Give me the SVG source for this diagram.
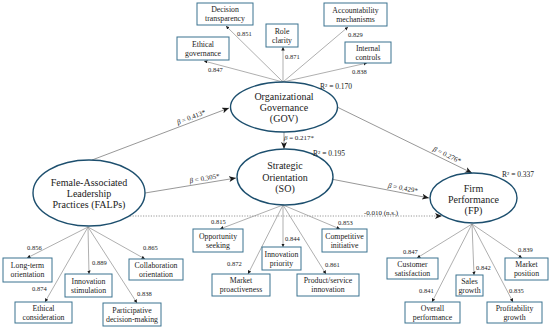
<svg xmlns="http://www.w3.org/2000/svg" width="550" height="330" viewBox="0 0 550 330">
<style>
text{font-family:"Liberation Serif","DejaVu Serif",serif;fill:#1a1a1a}
.ell{fill:#fff;stroke:#1d4f6e;stroke-width:1.4}
.box{fill:#fff;stroke:#3a7390;stroke-width:1}
.ind{stroke:#8c8c8c;stroke-width:0.7;fill:none}
.pth{stroke:#8c8c8c;stroke-width:0.9;fill:none}
.dot{stroke:#8c8c8c;stroke-width:0.9;fill:none;stroke-dasharray:1.2 1.4}
.lt{font-size:10px;text-anchor:middle}
.bt{font-size:7.8px;text-anchor:middle}
.ld{font-size:6.5px}
.r2{font-size:7.5px}
.beta{font-size:7px;text-anchor:middle}
</style>
<defs>
<marker id="ah" markerUnits="userSpaceOnUse" markerWidth="8" markerHeight="7" refX="7" refY="3" orient="auto">
<path d="M0,0 L7,3 L0,6 L1.8,3 z" fill="#1a1a1a"/>
</marker>
<marker id="sh" markerUnits="userSpaceOnUse" markerWidth="5" markerHeight="5" refX="3.5" refY="1.75" orient="auto">
<path d="M0,0 L3.5,1.75 L0,3.5 z" fill="#1a1a1a"/>
</marker>
</defs>

<g id="connectors">
<!-- structural paths -->
<line class="pth" x1="92" y1="160" x2="229" y2="108" marker-end="url(#ah)"/>
<line class="pth" x1="145" y1="193" x2="236" y2="178" marker-end="url(#ah)"/>
<line class="pth" x1="284" y1="132" x2="284" y2="149" marker-end="url(#ah)"/>
<line class="pth" x1="337" y1="107" x2="472" y2="173" marker-end="url(#ah)"/>
<line class="pth" x1="331" y1="179" x2="429" y2="198" marker-end="url(#ah)"/>
<line class="dot" x1="130" y1="216" x2="442" y2="216" marker-end="url(#ah)"/>
<!-- GOV indicators -->
<line class="ind" x1="283" y1="82" x2="226" y2="26" marker-end="url(#sh)"/>
<line class="ind" x1="283" y1="82" x2="283" y2="47" marker-end="url(#sh)"/>
<line class="ind" x1="283" y1="82" x2="348" y2="27" marker-end="url(#sh)"/>
<line class="ind" x1="283" y1="82" x2="204" y2="61" marker-end="url(#sh)"/>
<line class="ind" x1="283" y1="82" x2="367" y2="63" marker-end="url(#sh)"/>
<!-- FALPs indicators -->
<line class="ind" x1="88" y1="227" x2="27" y2="258" marker-end="url(#sh)"/>
<line class="ind" x1="88" y1="227" x2="45" y2="302" marker-end="url(#sh)"/>
<line class="ind" x1="88" y1="227" x2="89" y2="274" marker-end="url(#sh)"/>
<line class="ind" x1="88" y1="227" x2="137" y2="303" marker-end="url(#sh)"/>
<line class="ind" x1="88" y1="227" x2="145" y2="259" marker-end="url(#sh)"/>
<!-- SO indicators -->
<line class="ind" x1="283" y1="205" x2="220" y2="229" marker-end="url(#sh)"/>
<line class="ind" x1="283" y1="205" x2="248" y2="274" marker-end="url(#sh)"/>
<line class="ind" x1="283" y1="205" x2="283" y2="247" marker-end="url(#sh)"/>
<line class="ind" x1="283" y1="205" x2="326" y2="274" marker-end="url(#sh)"/>
<line class="ind" x1="283" y1="205" x2="340" y2="229" marker-end="url(#sh)"/>
<!-- FP indicators -->
<line class="ind" x1="472" y1="224" x2="417" y2="258" marker-end="url(#sh)"/>
<line class="ind" x1="472" y1="224" x2="432" y2="302" marker-end="url(#sh)"/>
<line class="ind" x1="472" y1="224" x2="474" y2="275" marker-end="url(#sh)"/>
<line class="ind" x1="472" y1="224" x2="513" y2="302" marker-end="url(#sh)"/>
<line class="ind" x1="472" y1="224" x2="522" y2="258" marker-end="url(#sh)"/>
<!-- path labels -->
<text class="beta" transform="translate(192,119.4) rotate(-20.8)"><tspan font-style="italic">β</tspan> = 0.413*</text>
<text class="beta" transform="translate(205,180.6) rotate(-9.4)"><tspan font-style="italic">β</tspan> = 0.305*</text>
<text class="beta" x="299" y="140"><tspan font-style="italic">β</tspan> = 0.217*</text>
<text class="beta" transform="translate(446,157) rotate(26)"><tspan font-style="italic">β</tspan> = 0.276*</text>
<text class="beta" transform="translate(402.5,190.3) rotate(10.9)"><tspan font-style="italic">β</tspan> = 0.429*</text>
<text class="beta" x="381" y="214.5">-0.010 (n.s.)</text>
<!-- loadings -->
<text class="ld" x="237" y="35.5">0.851</text>
<text class="ld" x="285" y="58.5">0.871</text>
<text class="ld" x="348" y="36.5">0.829</text>
<text class="ld" x="208" y="71.5">0.847</text>
<text class="ld" x="352" y="73.5">0.838</text>
<text class="ld" x="27" y="250">0.856</text>
<text class="ld" x="32" y="291">0.874</text>
<text class="ld" x="92" y="265">0.889</text>
<text class="ld" x="137" y="296">0.838</text>
<text class="ld" x="143" y="250">0.865</text>
<text class="ld" x="211" y="223.5">0.815</text>
<text class="ld" x="227" y="265.5">0.872</text>
<text class="ld" x="285" y="240.5">0.844</text>
<text class="ld" x="325" y="266.5">0.861</text>
<text class="ld" x="338" y="224.5">0.853</text>
<text class="ld" x="403" y="253.5">0.847</text>
<text class="ld" x="419" y="292.5">0.841</text>
<text class="ld" x="476" y="269.5">0.842</text>
<text class="ld" x="509" y="292.5">0.835</text>
<text class="ld" x="518" y="251.5">0.839</text>
</g>

<g id="GOV">
<ellipse class="ell" cx="284" cy="107" rx="53.5" ry="25"/>
<text class="lt" x="284" y="99.5">Organizational</text>
<text class="lt" x="284" y="110.5">Governance</text>
<text class="lt" x="284" y="121.5">(GOV)</text>
<text class="r2" x="320" y="88.5">R² = 0.170</text>
</g>
<g id="SO">
<ellipse class="ell" cx="285" cy="177" rx="48" ry="28"/>
<text class="lt" x="285" y="168.5">Strategic</text>
<text class="lt" x="285" y="180.5">Orientation</text>
<text class="lt" x="285" y="191.5">(SO)</text>
<text class="r2" x="313" y="156">R² = 0.195</text>
</g>
<g id="FALPs">
<ellipse class="ell" cx="89" cy="193" rx="56" ry="33"/>
<text class="lt" x="89" y="185.5">Female-Associated</text>
<text class="lt" x="89" y="196.5">Leadership</text>
<text class="lt" x="89" y="207.5">Practices (FALPs)</text>
</g>
<g id="FP">
<ellipse class="ell" cx="473.5" cy="198" rx="43.5" ry="25"/>
<text class="lt" x="473.5" y="191.5">Firm</text>
<text class="lt" x="473.5" y="202.5">Performance</text>
<text class="lt" x="473.5" y="213.5">(FP)</text>
<text class="r2" x="502" y="177">R² = 0.337</text>
</g>

<g id="gov_dt"><rect class="box" x="197" y="3" width="56" height="22"/><text class="bt" x="225" y="12.3">Decision</text><text class="bt" x="225" y="21.3">transparency</text></g>
<g id="gov_rc"><rect class="box" x="266" y="24" width="32" height="23"/><text class="bt" x="282" y="33.8">Role</text><text class="bt" x="282" y="42.8">clarity</text></g>
<g id="gov_am"><rect class="box" x="324" y="3" width="63" height="23"/><text class="bt" x="355.5" y="12.8">Accountability</text><text class="bt" x="355.5" y="21.8">mechanisms</text></g>
<g id="gov_eg"><rect class="box" x="177" y="37" width="52" height="23"/><text class="bt" x="203" y="46.8">Ethical</text><text class="bt" x="203" y="55.8">governance</text></g>
<g id="gov_ic"><rect class="box" x="345" y="42" width="46" height="21"/><text class="bt" x="368" y="50.8">Internal</text><text class="bt" x="368" y="59.8">controls</text></g>

<g id="falps_lt"><rect class="box" x="3" y="258" width="49" height="24"/><text class="bt" x="27.5" y="268.3">Long-term</text><text class="bt" x="27.5" y="277.3">orientation</text></g>
<g id="falps_ec"><rect class="box" x="15" y="302" width="57" height="21"/><text class="bt" x="43.5" y="310.8">Ethical</text><text class="bt" x="43.5" y="319.8">consideration</text></g>
<g id="falps_is"><rect class="box" x="65" y="274" width="47" height="23"/><text class="bt" x="88.5" y="283.8">Innovation</text><text class="bt" x="88.5" y="292.8">stimulation</text></g>
<g id="falps_pd"><rect class="box" x="103" y="303" width="58" height="23"/><text class="bt" x="132" y="312.8">Participative</text><text class="bt" x="132" y="321.8">decision-making</text></g>
<g id="falps_co"><rect class="box" x="129" y="259" width="54" height="21"/><text class="bt" x="156" y="267.8">Collaboration</text><text class="bt" x="156" y="276.8">orientation</text></g>

<g id="so_os"><rect class="box" x="193" y="229" width="50" height="23"/><text class="bt" x="218" y="238.8">Opportunity</text><text class="bt" x="218" y="247.8">seeking</text></g>
<g id="so_mp"><rect class="box" x="212" y="274" width="58" height="22"/><text class="bt" x="241" y="283.3">Market</text><text class="bt" x="241" y="292.3">proactiveness</text></g>
<g id="so_ip"><rect class="box" x="262" y="247" width="39" height="23"/><text class="bt" x="281.5" y="256.8">Innovation</text><text class="bt" x="281.5" y="265.8">priority</text></g>
<g id="so_ps"><rect class="box" x="297" y="274" width="62" height="22"/><text class="bt" x="328" y="283.3">Product/service</text><text class="bt" x="328" y="292.3">innovation</text></g>
<g id="so_ci"><rect class="box" x="322" y="229" width="45" height="23"/><text class="bt" x="344.5" y="238.8">Competitive</text><text class="bt" x="344.5" y="247.8">initiative</text></g>

<g id="fp_cs"><rect class="box" x="387" y="258" width="51" height="21"/><text class="bt" x="412.5" y="266.8">Customer</text><text class="bt" x="412.5" y="275.8">satisfaction</text></g>
<g id="fp_op"><rect class="box" x="405" y="302" width="55" height="21"/><text class="bt" x="432.5" y="310.8">Overall</text><text class="bt" x="432.5" y="319.8">performance</text></g>
<g id="fp_sg"><rect class="box" x="456" y="275" width="27" height="21"/><text class="bt" x="469.5" y="283.8">Sales</text><text class="bt" x="469.5" y="292.8">growth</text></g>
<g id="fp_pg"><rect class="box" x="487" y="302" width="55" height="21"/><text class="bt" x="514.5" y="310.8">Profitability</text><text class="bt" x="514.5" y="319.8">growth</text></g>
<g id="fp_mp"><rect class="box" x="505" y="258" width="43" height="22"/><text class="bt" x="526.5" y="267.3">Market</text><text class="bt" x="526.5" y="276.3">position</text></g>
</svg>
